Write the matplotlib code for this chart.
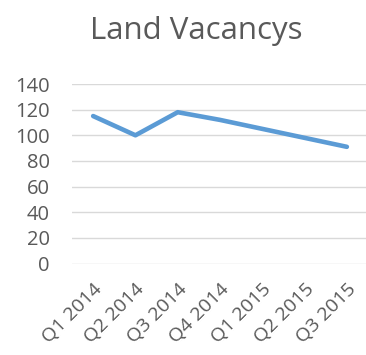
import matplotlib
matplotlib.use("Agg")
import matplotlib.pyplot as plt

quarters = ["Q1 2014", "Q2 2014", "Q3 2014", "Q4 2014", "Q1 2015", "Q2 2015", "Q3 2015"]
vacancies = [115, 100, 118, 112, 105, 98, 91]
y_ticks = [0, 20, 40, 60, 80, 100, 120, 140]

plt.rcParams["font.family"] = ["Open Sans", "DejaVu Sans"]
text_color = "#595959"

fig = plt.figure(figsize=(3.66, 3.55), dpi=100)
ax = fig.add_axes([72 / 366, 91.5 / 355, 296 / 366, 179.5 / 355])

x = list(range(len(quarters)))
ax.plot(x, vacancies, color="#5B9BD5", linewidth=3.3, solid_capstyle="round", solid_joinstyle="round", zorder=3)

ax.set_xlim(-0.5, len(quarters) - 0.5)
ax.set_ylim(0, 140)
ax.set_yticks(y_ticks)
ax.set_yticklabels([str(v) for v in y_ticks], fontsize=14.5, color=text_color)
ax.set_xticks(x)
ax.set_xticklabels(quarters, fontsize=14, color=text_color, rotation=45,
                   ha="right", va="top", rotation_mode="anchor")
ax.grid(axis="y", color="#D9D9D9", linewidth=1.0, zorder=0)
ax.tick_params(axis="both", length=0)
ax.tick_params(axis="y", pad=16)
ax.tick_params(axis="x", pad=12)
for s in ax.spines.values():
    s.set_visible(False)

fig.suptitle("Land Vacancys", x=196 / 366, y=1 - 31 / 355, va="center", fontsize=22.5, color=text_color)

fig.savefig("out.png", dpi=100)
